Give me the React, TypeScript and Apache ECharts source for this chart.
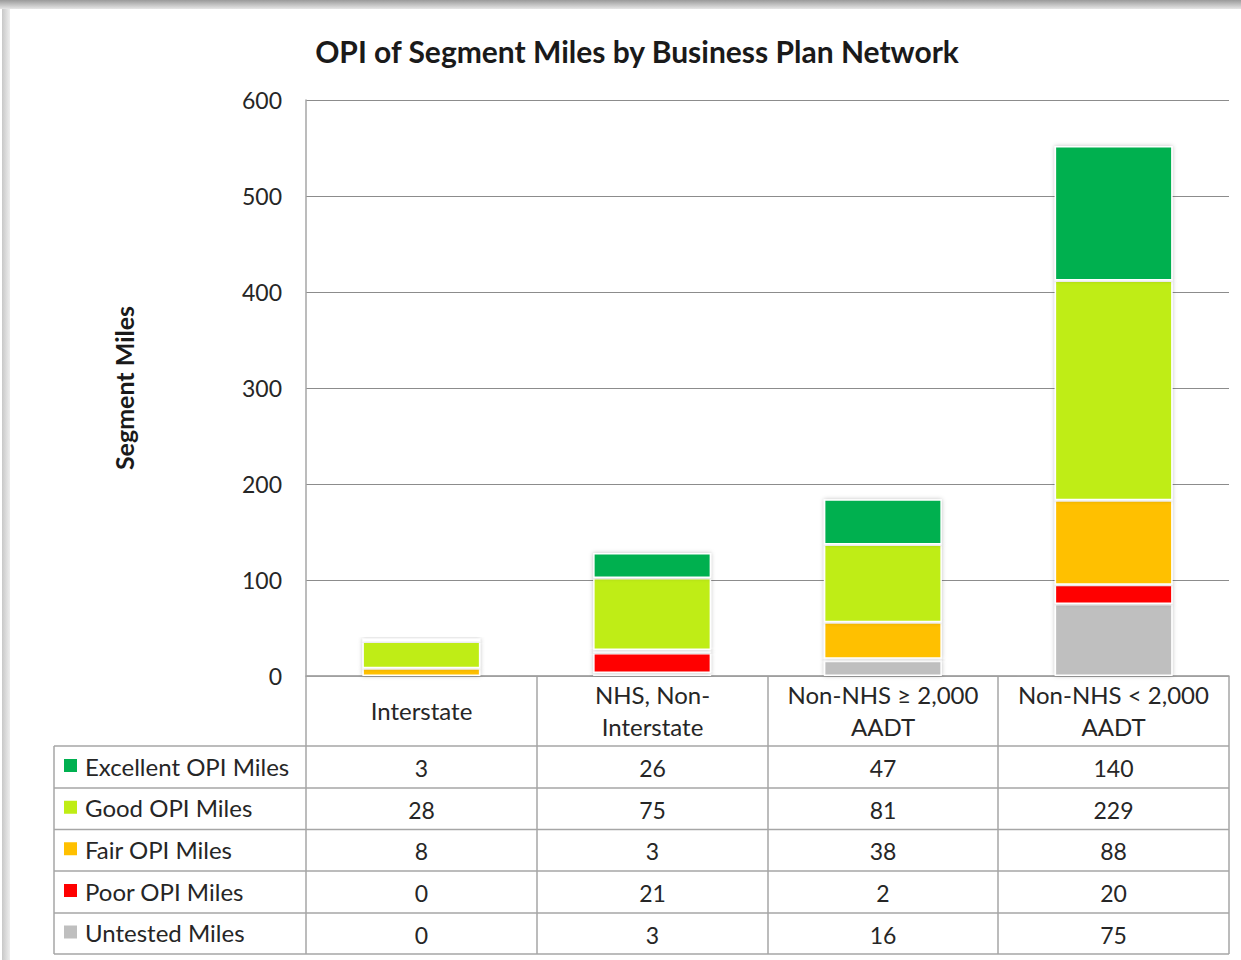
import React, { useEffect, useRef } from "react";
import * as echarts from "echarts";

const categories = ["Interstate", "NHS, Non-\nInterstate", "Non-NHS ≥ 2,000\nAADT", "Non-NHS < 2,000\nAADT"];
const seriesNames = ["Excellent OPI Miles", "Good OPI Miles", "Fair OPI Miles", "Poor OPI Miles", "Untested Miles"];
const excellent = [3, 26, 47, 140];
const good = [28, 75, 81, 229];
const fair = [8, 3, 38, 88];
const poor = [0, 21, 2, 20];
const untested = [0, 3, 16, 75];
const colors = ["#00b050", "#bfed14", "#ffc000", "#ff0000", "#bfbfbf"];
const yTicks = [0, 100, 200, 300, 400, 500, 600];

const FONT = "Lato, 'Noto Sans', sans-serif";

export default function App() {
  const ref = useRef<HTMLDivElement>(null);
  useEffect(() => {
    if (!ref.current) return;
    const chart = echarts.init(ref.current, undefined, { renderer: "svg" });
    const rows = [excellent, good, fair, poor, untested];
    const stackOrder = [4, 3, 2, 1, 0];
    const series = stackOrder.map((idx) => ({
      name: seriesNames[idx],
      type: "bar",
      stack: "total",
      barWidth: 118,
      data: rows[idx],
      itemStyle: {
        color: colors[idx],
        borderColor: "#ffffff",
        borderWidth: 1.5,
        shadowBlur: 4,
        shadowColor: "rgba(0,0,0,0.25)",
      },
    }));

    const colX = [306, 537, 768, 998, 1229];
    const rowY = [746, 788, 829.5, 871, 913, 954];
    const headerTop = 676;
    const leftX = 54;
    const lineStyle = { stroke: "#a6a6a6", lineWidth: 1.5 };
    const graphics: any[] = [];
    graphics.push({
      type: "rect", shape: { x: 0, y: 0, width: 1241, height: 9 }, silent: true,
      style: { fill: new echarts.graphic.LinearGradient(0, 0, 0, 1, [{ offset: 0, color: "#9a9a9a" }, { offset: 1, color: "#e6e6e6" }]) },
    });
    graphics.push({
      type: "rect", shape: { x: 2, y: 9, width: 8, height: 960 }, silent: true,
      style: { fill: new echarts.graphic.LinearGradient(0, 0, 1, 0, [{ offset: 0, color: "#c8c8c8" }, { offset: 1, color: "#eeeeee" }]) },
    });
    graphics.push({ type: "line", shape: { x1: colX[0], y1: headerTop, x2: colX[4], y2: headerTop }, style: lineStyle, silent: true });
    for (let i = 0; i < colX.length; i++) {
      graphics.push({ type: "line", shape: { x1: colX[i], y1: headerTop, x2: colX[i], y2: rowY[5] }, style: lineStyle, silent: true });
    }
    graphics.push({ type: "line", shape: { x1: leftX, y1: rowY[0], x2: leftX, y2: rowY[5] }, style: lineStyle, silent: true });
    for (let r = 0; r < rowY.length; r++) {
      graphics.push({ type: "line", shape: { x1: leftX, y1: rowY[r], x2: colX[4], y2: rowY[r] }, style: lineStyle, silent: true });
    }
    categories.forEach((c, i) => {
      graphics.push({
        type: "text", silent: true,
        x: (colX[i] + colX[i + 1]) / 2, y: (headerTop + rowY[0]) / 2 - 1,
        style: { text: c, font: `24px ${FONT}`, fill: "#262626", align: "center", verticalAlign: "middle", lineHeight: 32 },
      });
    });
    rows.forEach((vals, r) => {
      const cy = (rowY[r] + rowY[r + 1]) / 2;
      graphics.push({ type: "rect", silent: true, shape: { x: 64, y: cy - 8, width: 13, height: 13 }, style: { fill: colors[r] } });
      graphics.push({
        type: "text", silent: true, x: 85, y: cy - 1,
        style: { text: seriesNames[r], font: `24px ${FONT}`, fill: "#262626", align: "left", verticalAlign: "middle" },
      });
      vals.forEach((v, i) => {
        graphics.push({
          type: "text", silent: true, x: (colX[i] + colX[i + 1]) / 2, y: cy + 1,
          style: { text: String(v), font: `23px ${FONT}`, fill: "#262626", align: "center", verticalAlign: "middle" },
        });
      });
    });

    chart.setOption({
      animation: false,
      backgroundColor: "#ffffff",
      title: {
        text: "OPI of Segment Miles by Business Plan Network",
        left: 632, top: 31, textAlign: "center",
        textStyle: { fontFamily: FONT, fontSize: 30, fontWeight: "bold", color: "#1a1a1a" },
      },
      grid: { left: 306, right: 12, top: 100, bottom: 284, containLabel: false },
      xAxis: {
        type: "category",
        data: categories,
        axisLine: { show: true, lineStyle: { color: "#a6a6a6", width: 1.5 } },
        axisTick: { show: false },
        axisLabel: { show: false },
      },
      yAxis: {
        type: "value",
        min: yTicks[0], max: yTicks[yTicks.length - 1], interval: 100,
        name: "Segment Miles",
        nameLocation: "middle",
        nameGap: 170,
        nameRotate: 90,
        nameTextStyle: { fontFamily: FONT, fontSize: 25, fontWeight: "bold", color: "#1a1a1a" },
        axisLine: { show: true, lineStyle: { color: "#a6a6a6", width: 1.5 } },
        axisTick: { show: false },
        axisLabel: { fontFamily: FONT, fontSize: 23, color: "#262626", margin: 24 },
        splitLine: { lineStyle: { color: "#8c8c8c", width: 1 } },
      },
      series,
      graphic: graphics,
    });
    return () => chart.dispose();
  }, []);
  return <div ref={ref} style={{ position: "fixed", left: 0, top: 0, width: 1241, height: 960 }} />;
}
